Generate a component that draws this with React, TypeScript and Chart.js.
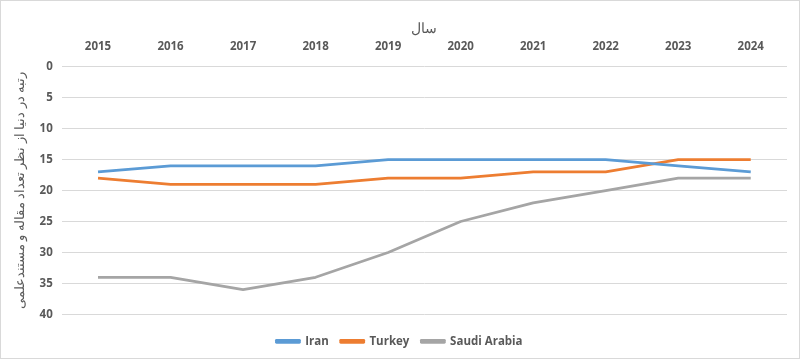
import React, { useEffect, useRef } from "react";
import { Chart, registerables } from "chart.js";

Chart.register(...registerables);

const years = ["2015", "2016", "2017", "2018", "2019", "2020", "2021", "2022", "2023", "2024"];
const iran = [17, 16, 16, 16, 15, 15, 15, 15, 16, 17];
const turkey = [18, 19, 19, 19, 18, 18, 17, 17, 15, 15];
const saudi = [34, 34, 36, 34, 30, 25, 22, 20, 18, 18];

const xTitle = "سال";
const yTitle = "رتبه در دنیا از نظر تعداد مقاله و مستندعلمی";

const FONT = "'Open Sans', 'Liberation Sans', sans-serif";
const TEXT = "#595959";

export default function App() {
  const ref = useRef<HTMLCanvasElement | null>(null);

  useEffect(() => {
    document.body.style.margin = "0";
    const canvas = ref.current;
    if (!canvas) return;
    const mk = (label: string, data: number[], color: string) => ({
      label,
      data,
      borderColor: color,
      backgroundColor: color,
      borderWidth: 2.75,
      pointRadius: 0,
      tension: 0,
      borderJoinStyle: "round" as const,
      fill: false,
    });
    const chart = new Chart(canvas, {
      type: "line",
      data: {
        labels: years,
        datasets: [
          mk("Iran", iran, "#5B9BD5"),
          mk("Turkey", turkey, "#ED7D31"),
          mk("Saudi Arabia", saudi, "#A5A5A5"),
        ],
      },
      options: {
        responsive: false,
        animation: false,
        layout: { padding: { left: 11, right: 12, top: 20, bottom: 1 } },
        plugins: {
          tooltip: { enabled: false },
          legend: {
            position: "bottom",
            labels: {
              color: TEXT,
              font: { family: FONT, size: 11.5, weight: "bold" },
              boxWidth: 23,
              boxHeight: 2,
              padding: 12,
            },
          },
        },
        scales: {
          x: {
            position: "top",
            offset: true,
            grid: { display: false },
            border: { display: false },
            ticks: {
              color: TEXT,
              font: { family: FONT, size: 11.5, weight: "bold" },
              padding: 5,
              maxRotation: 0,
            },
            title: {
              display: true,
              text: xTitle,
              color: TEXT,
              font: { family: FONT, size: 14 },
              padding: { top: 0, bottom: -3 },
            },
          },
          xb: {
            type: "category",
            position: "bottom",
            offset: true,
            grid: { display: false },
            border: { display: false },
            ticks: { display: false },
            afterFit: (scale: any) => {
              scale.height = 9;
            },
          },
          y: {
            reverse: true,
            min: 0,
            max: 40,
            border: { display: false },
            grid: { color: "#d9d9d9", drawTicks: false },
            ticks: {
              stepSize: 5,
              color: TEXT,
              font: { family: FONT, size: 11.5, weight: "bold" },
              padding: 9,
            },
            title: {
              display: true,
              text: yTitle,
              color: TEXT,
              font: { family: FONT, size: 13 },
              padding: { top: 0, bottom: 3 },
            },
          },
        },
      },
    });
    return () => chart.destroy();
  }, []);

  return (
    <div
      style={{
        width: 800,
        height: 359,
        boxSizing: "border-box",
        border: "1px solid #d9d9d9",
        background: "#fff",
      }}
    >
      <canvas ref={ref} width={798} height={357} style={{ display: "block" }} />
    </div>
  );
}
